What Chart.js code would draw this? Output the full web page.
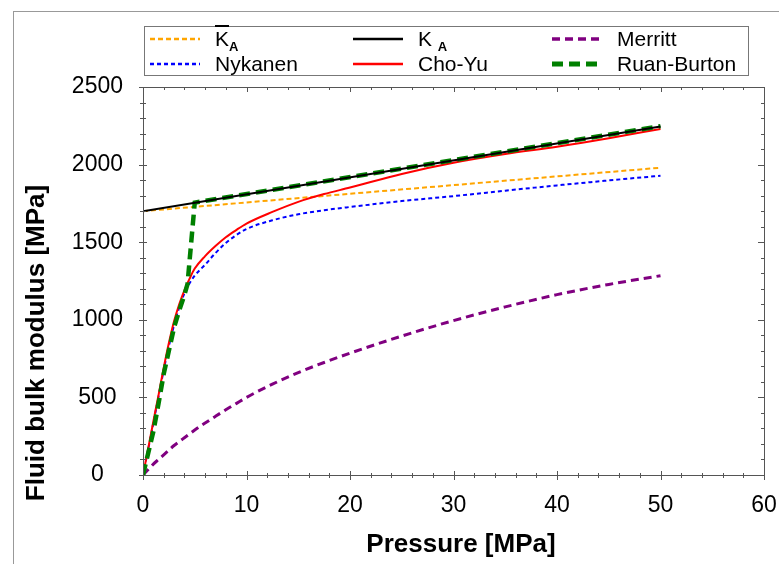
<!DOCTYPE html>
<html>
<head>
<meta charset="utf-8">
<title>Fluid bulk modulus vs pressure</title>
<script src="https://cdn.jsdelivr.net/npm/chart.js@4.4.0/dist/chart.umd.min.js"></script>
<style>
    body { margin: 0; background: #fff; font-family: "Liberation Sans", Arial, sans-serif; }
    #wrap { position: relative; width: 779px; height: 564px; overflow: hidden; }
    #legend {
        position: absolute; left: 144px; top: 26px; width: 605px; height: 50px;
        border: 1px solid #777; box-sizing: border-box; background: #fff;
    }
    .item { position: absolute; height: 24px; display: flex; align-items: center; font-size: 21px; color: #000; white-space: nowrap; }
    .item svg { margin-right: 15px; }
    .ov { text-decoration: overline; }
    .sub { font-size: 13px; font-weight: bold; position: relative; top: 5px; }
</style>
</head>
<body>
<div id="wrap">
    <canvas id="chart" width="779" height="564"></canvas>
    <div id="legend"></div>
</div>
<script>
// Pressure grid shared by the curved models [MPa]
const pressures = [0, 0.5, 1, 1.5, 2, 2.5, 3, 3.5, 4, 4.5, 5, 6, 7, 8, 9, 10, 12.5, 15, 17.5, 20, 25, 30, 35, 40, 45, 50];

// Bulk modulus values [MPa]
const nykanen = [0, 165, 335, 505, 675, 830, 965, 1080, 1170, 1235, 1285, 1355, 1430, 1495, 1545, 1585, 1641, 1680, 1706, 1727, 1765, 1797, 1832, 1866, 1898, 1928];
const choYu   = [0, 170, 345, 515, 690, 850, 990, 1100, 1190, 1265, 1330, 1410, 1475, 1532, 1578, 1620, 1695, 1760, 1810, 1852, 1940, 2012, 2068, 2115, 2170, 2230];
const merritt = [0, 35, 70, 100, 130, 160, 190, 215, 240, 265, 290, 335, 378, 420, 460, 500, 585, 660, 725, 785, 895, 995, 1083, 1162, 1228, 1284];

// Straight-line models
const pLinear = [0, 50];
const kA      = [1700, 2245];
const kAmean  = [1700, 1980];

// Ruan-Burton: air dissolves fully near 5 MPa, then follows K_A
const pRuan = [0, 0.5, 1, 1.5, 2, 2.5, 3, 3.5, 4, 4.3, 5, 50];
const ruan  = [0, 140, 280, 460, 650, 800, 950, 1060, 1160, 1230, 1755, 2248];

// Axis ticks
const xTicks = [0, 10, 20, 30, 40, 50, 60];
const yTicks = [0, 500, 1000, 1500, 2000, 2500];

// Legend names (markup for the subscripted ones), in legend order
const legendNames = ['<span class="ov">K</span><span class="sub">A</span>', 'K <span class="sub">A</span>', 'Merritt',
                     'Nykanen', 'Cho-Yu', 'Ruan-Burton'];
const seriesNames = ['K\u0305A', 'KA', 'Merritt', 'Nykanen', 'Cho-Yu', 'Ruan-Burton'];

// Styles, same order
const seriesColors = ['#FFA500', '#000000', '#800080', '#0000FF', '#FF0000', '#008000'];
const seriesDash   = [[5, 3], [], [8, 5], [4, 3], [], [11, 6]];
const seriesWidth  = [2, 2, 3, 2, 2, 4.5];
const seriesOrder  = [4, 0, 5, 3, 2, 1];

function toPoints(xs, ys) {
    return xs.map((x, i) => ({ x: x, y: ys[i] }));
}

const seriesPoints = [
    toPoints(pLinear, kAmean),
    toPoints(pLinear, kA),
    toPoints(pressures, merritt),
    toPoints(pressures, nykanen),
    toPoints(pressures, choYu),
    toPoints(pRuan, ruan)
];

// Legend in HTML so the overline and subscripts stay real text
function buildLegend() {
    const legend = document.getElementById('legend');
    const colX = [5, 208, 407];
    const rowY = [0, 25];
    seriesNames.forEach((name, i) => {
        const item = document.createElement('div');
        item.className = 'item';
        item.style.left = colX[i % 3] + 'px';
        item.style.top = rowY[Math.floor(i / 3)] + 'px';
        const dash = seriesDash[i].length ? seriesDash[i].join(' ') : 'none';
        item.innerHTML =
            '<svg width="50" height="10"><line x1="0" y1="5" x2="50" y2="5" stroke="' + seriesColors[i] +
            '" stroke-width="' + (seriesWidth[i] + 0.5) + '" stroke-dasharray="' + dash + '"/></svg>' +
            '<span>' + legendNames[i] + '</span>';
        legend.appendChild(item);
    });
}

// Outer border, plot box, ticks on all four sides, axis titles
const framePlugin = {
    id: 'frame',
    beforeDraw(chart) {
        const ctx = chart.ctx;
        ctx.save();
        ctx.fillStyle = '#fff';
        ctx.fillRect(0, 0, chart.width, chart.height);
        ctx.strokeStyle = '#999';
        ctx.lineWidth = 1;
        ctx.strokeRect(13.5, 11.5, 900, 700);
        ctx.restore();
    },
    afterDraw(chart) {
        const ctx = chart.ctx;
        const area = chart.chartArea;
        const xs = chart.scales.x;
        const ys = chart.scales.y;
        ctx.save();
        ctx.strokeStyle = '#555';
        ctx.lineWidth = 1;
        ctx.strokeRect(Math.round(area.left) + 0.5, Math.round(area.top) + 0.5,
                       Math.round(area.right - area.left), Math.round(area.bottom - area.top));
        ctx.beginPath();
        for (let v = xs.min; v <= xs.max; v += 2) {
            const px = Math.round(xs.getPixelForValue(v)) + 0.5;
            const major = v % 10 === 0;
            ctx.moveTo(px, area.bottom - (major ? 4 : 2));
            ctx.lineTo(px, area.bottom + (major ? 5 : 3));
            ctx.moveTo(px, area.top);
            ctx.lineTo(px, area.top + (major ? 5 : 3));
        }
        for (let v = ys.min; v <= ys.max; v += 100) {
            const py = Math.round(ys.getPixelForValue(v)) + 0.5;
            const major = v % 500 === 0;
            ctx.moveTo(area.left - (major ? 4 : 3), py);
            ctx.lineTo(area.left + (major ? 4 : 3), py);
            ctx.moveTo(area.right - (major ? 6 : 3), py);
            ctx.lineTo(area.right, py);
        }
        ctx.stroke();

        ctx.fillStyle = '#000';
        ctx.font = 'bold 26px "Liberation Sans", Arial, sans-serif';
        ctx.textAlign = 'center';
        ctx.textBaseline = 'middle';
        ctx.fillText('Pressure [MPa]', 461, 545);
        ctx.translate(37, 343);
        ctx.rotate(-Math.PI / 2);
        ctx.fillText('Fluid bulk modulus [MPa]', 0, 0);
        ctx.restore();
    }
};

function initializeChart() {
    Chart.defaults.font.family = '"Liberation Sans", Arial, sans-serif';
    Chart.defaults.color = '#000';

    const datasets = seriesNames.map((name, i) => ({
        label: name,
        data: seriesPoints[i],
        borderColor: seriesColors[i],
        backgroundColor: seriesColors[i],
        borderWidth: seriesWidth[i],
        borderDash: seriesDash[i],
        pointRadius: 0,
        fill: false,
        order: seriesOrder[i],
        cubicInterpolationMode: i === 5 ? 'default' : 'monotone',
        tension: 0
    }));

    new Chart(document.getElementById('chart').getContext('2d'), {
        type: 'line',
        data: { datasets: datasets },
        options: {
            responsive: false,
            animation: false,
            layout: { padding: { top: 87, right: 15, left: 0, bottom: 0 } },
            plugins: {
                legend: { display: false },
                tooltip: { enabled: false }
            },
            scales: {
                x: {
                    type: 'linear',
                    min: 0,
                    max: 60,
                    afterBuildTicks: (scale) => { scale.ticks = xTicks.map(v => ({ value: v })); },
                    afterFit: (scale) => {
                        scale.height = 89;
                        scale.paddingLeft = 0;
                        scale.paddingRight = 0;
                    },
                    ticks: { font: { size: 23 }, color: '#000', padding: 17, maxRotation: 0, callback: (v) => String(v) },
                    grid: { display: false, drawTicks: false },
                    border: { display: false }
                },
                y: {
                    type: 'linear',
                    min: 0,
                    max: 2500,
                    afterBuildTicks: (scale) => { scale.ticks = yTicks.map(v => ({ value: v })); },
                    afterFit: (scale) => {
                        scale.width = 143;
                        scale.paddingTop = 0;
                        scale.paddingBottom = 0;
                    },
                    ticks: { font: { size: 23 }, color: '#000', padding: 20, crossAlign: 'center', callback: (v) => String(v) },
                    grid: { display: false, drawTicks: false },
                    border: { display: false }
                }
            }
        },
        plugins: [framePlugin]
    });
}

document.addEventListener('DOMContentLoaded', () => {
    buildLegend();
    initializeChart();
});
</script>
</body>
</html>
